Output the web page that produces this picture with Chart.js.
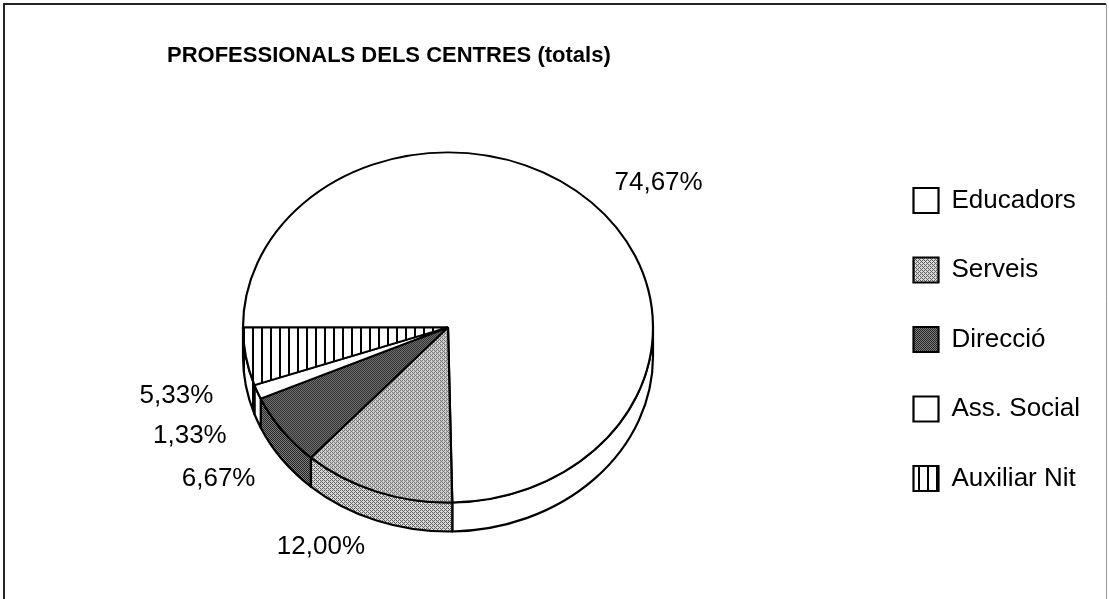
<!DOCTYPE html>
<html>
<head>
<meta charset="utf-8">
<script src="https://cdn.jsdelivr.net/npm/chart.js@4"></script>
<style>
  body { margin: 0; background: #fff; }
  canvas { display: block; }
</style>
</head>
<body>
<canvas id="grafic" width="1109" height="599"></canvas>
<script>
// dades
const categories = ['Educadors', 'Serveis', 'Direcció', 'Ass. Social', 'Auxiliar Nit'];
const professionals = [56, 9, 5, 1, 4]; // total 75
const titol = 'PROFESSIONALS DELS CENTRES (totals)';

const FONT = '"Liberation Sans", Arial, Helvetica, sans-serif';
const ESCALA_Y = 0.854; // aplanament del pastis
const GRUIX = 29;       // alcada del lateral

/* ===== TRAMES ===== */
const bayer = [0, 8, 2, 10, 12, 4, 14, 6, 3, 11, 1, 9, 15, 7, 13, 5];

function trama(fons, punt, densitat) {
  let c = document.createElement('canvas');
  c.width = c.height = 4;
  let x = c.getContext('2d');
  x.fillStyle = fons;
  x.fillRect(0, 0, 4, 4);
  x.fillStyle = punt;
  bayer.forEach((v, i) => {
    if (v < densitat) x.fillRect(i % 4, Math.floor(i / 4), 1, 1);
  });
  return x.createPattern(c, 'repeat');
}

function ratlles() {
  let c = document.createElement('canvas');
  c.width = 9; c.height = 4;
  let x = c.getContext('2d');
  x.fillStyle = '#fff';
  x.fillRect(0, 0, 9, 4);
  x.fillStyle = '#000';
  x.fillRect(0, 0, 2, 4);
  return x.createPattern(c, 'repeat');
}

const patrons = [trama('#dadada', '#5e5e5e', 6), trama('#808080', '#222222', 8), ratlles()];
const colors = ['#ffffff', patrons[0], patrons[1], '#ffffff', patrons[2]];

function resetPatrons(m) {
  patrons.forEach(p => p.setTransform(m || new DOMMatrix()));
}

/* ===== PLUGINS ===== */
const pastis3d = {
  id: 'pastis3d',
  beforeDraw(chart) {
    const ctx = chart.ctx;
    ctx.save();
    ctx.fillStyle = '#fff';
    ctx.fillRect(0, 0, chart.width, chart.height);
    ctx.strokeStyle = '#222';
    ctx.lineWidth = 2;
    ctx.beginPath();
    ctx.moveTo(4, chart.height);
    ctx.lineTo(4, 4);
    ctx.lineTo(1106, 4);
    ctx.stroke();
    ctx.strokeStyle = '#999';
    ctx.lineWidth = 1;
    ctx.beginPath();
    ctx.moveTo(1106.5, 4);
    ctx.lineTo(1106.5, chart.height);
    ctx.stroke();
    ctx.restore();
    resetPatrons();
  },
  beforeDatasetsDraw(chart) {
    const ctx = chart.ctx;
    const arcs = chart.getDatasetMeta(0).data;
    const cx = arcs[0].x, cy = arcs[0].y;
    const rx = arcs[0].outerRadius, ry = rx * ESCALA_Y;

    // laterals (nomes la meitat de davant)
    ctx.save();
    ctx.lineWidth = 2.2;
    ctx.strokeStyle = '#000';
    ctx.lineJoin = 'round';
    arcs.forEach(arc => {
      let a0 = Math.max(arc.startAngle, 0), a1 = Math.min(arc.endAngle, Math.PI);
      if (a1 <= a0) return;
      ctx.beginPath();
      ctx.ellipse(cx, cy, rx, ry, 0, a0, a1);
      ctx.ellipse(cx, cy + GRUIX, rx, ry, 0, a1, a0, true);
      ctx.closePath();
      ctx.fillStyle = arc.options.backgroundColor;
      ctx.fill();
      ctx.stroke();
    });
    ctx.restore();

    // cara de dalt aplanada
    ctx.save();
    ctx.translate(cx, cy);
    ctx.scale(1, ESCALA_Y);
    ctx.translate(-cx, -cy);
    resetPatrons(new DOMMatrix().scale(1, 1 / ESCALA_Y));
  },
  afterDatasetsDraw(chart) {
    chart.ctx.restore();
    resetPatrons();
  }
};

const etiquetes = {
  id: 'etiquetes',
  afterDraw(chart) {
    const ctx = chart.ctx;
    const arcs = chart.getDatasetMeta(0).data;
    const dades = chart.data.datasets[0].data;
    const total = dades.reduce((a, b) => a + b, 0);
    ctx.save();
    ctx.font = '26px ' + FONT;
    ctx.fillStyle = '#000';
    ctx.textBaseline = 'middle';
    arcs.forEach((arc, i) => {
      const rx = arc.outerRadius, ry = rx * ESCALA_Y;
      const mig = (arc.startAngle + arc.endAngle) / 2;
      const c = Math.cos(mig), s = Math.sin(mig);
      const x = arc.x + (rx + 33) * c;
      let y = arc.y + (ry + 28) * s;
      if (s > 0) y += GRUIX + 7 * (1 - s);
      ctx.textAlign = c >= 0 ? 'left' : 'right';
      ctx.fillText((dades[i] / total * 100).toFixed(2).replace('.', ',') + '%', x, y);
    });
    ctx.restore();
  }
};

const posicions = {
  id: 'posicions',
  afterLayout(chart) {
    chart.titleBlock.left = 167;
    let l = chart.legend;
    l.left = 870; l.right = 870 + l.width;
    l.top = 144; l.bottom = 144 + l.height;
  }
};

/* ===== GRAFIC ===== */
let ctx1 = document.getElementById('grafic');
new Chart(ctx1, {
  type: 'pie',
  data: {
    labels: categories,
    datasets: [{
      data: professionals,
      backgroundColor: colors,
      borderColor: '#000',
      borderWidth: 2.2,
      clip: false
    }]
  },
  options: {
    responsive: false,
    animation: false,
    events: [],
    rotation: -90,
    radius: 205,
    layout: { padding: { left: 10, right: 223, top: 0, bottom: 13 } },
    plugins: {
      tooltip: { enabled: false },
      title: {
        display: true,
        text: titol,
        align: 'start',
        color: '#000',
        font: { family: FONT, size: 22, weight: 'bold' },
        padding: { top: 42.5, bottom: 0 }
      },
      legend: {
        position: 'chartArea',
        align: 'start',
        labels: {
          color: '#000',
          font: { family: FONT, size: 26 },
          boxWidth: 25,
          boxHeight: 25,
          padding: 43.5
        }
      }
    }
  },
  plugins: [pastis3d, etiquetes, posicions]
});
</script>
</body>
</html>
